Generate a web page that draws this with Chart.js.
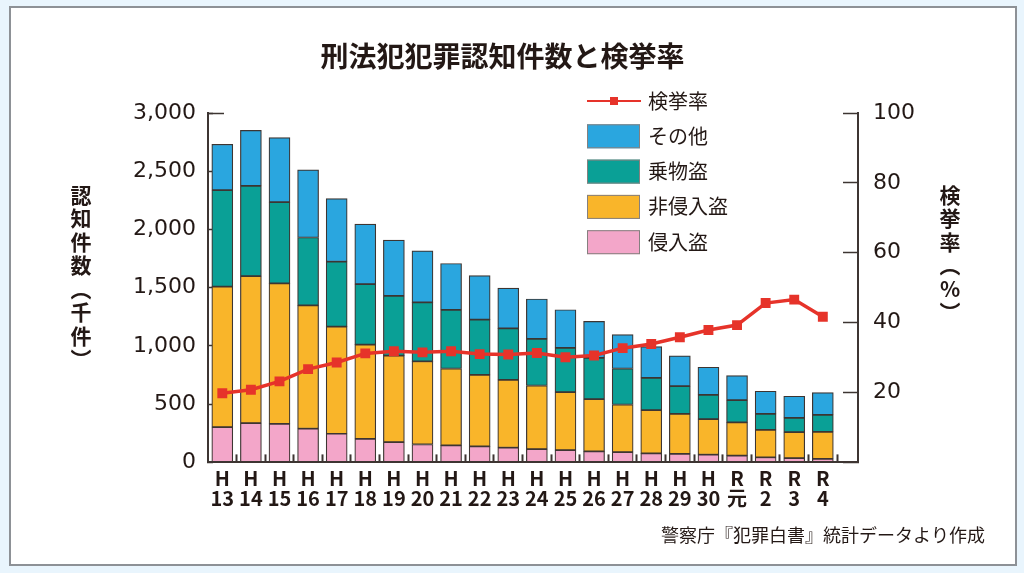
<!DOCTYPE html>
<html lang="ja">
<head>
<meta charset="utf-8">
<title>刑法犯犯罪認知件数と検挙率</title>
<script src="https://cdn.jsdelivr.net/npm/chart.js@4.4.1/dist/chart.umd.min.js"></script>
<style>
  html, body { margin: 0; padding: 0; background: #e9f5fd; }
  #panel { position: absolute; left: 9px; top: 6px; width: 1004px; height: 556px; background: #fff; border: 2px solid #8d9196; }
  #chart { position: absolute; left: 0; top: 0; }
</style>
</head>
<body>
<div id="panel"></div>
<canvas id="chart" width="1024" height="573"></canvas>
<script>
const categories = ['H13', 'H14', 'H15', 'H16', 'H17', 'H18', 'H19', 'H20', 'H21', 'H22', 'H23',
  'H24', 'H25', 'H26', 'H27', 'H28', 'H29', 'H30', 'R元', 'R2', 'R3', 'R4'];

// 認知件数（千件）
const burglary     = [303, 337, 331, 289, 246, 203, 174, 154, 146, 137, 126, 114, 106, 94, 89, 77, 74, 66, 58, 44, 37, 31];
const nonBurglary  = [1206, 1263, 1206, 1059, 920, 808, 743, 714, 660, 614, 583, 546, 497, 449, 408, 372, 343, 305, 285, 236, 223, 232];
const vehicleTheft = [828, 774, 697, 583, 557, 520, 512, 506, 503, 475, 442, 400, 380, 354, 309, 277, 237, 209, 191, 137, 123, 146];
const others       = [394, 477, 554, 580, 542, 515, 480, 443, 399, 377, 346, 343, 328, 314, 291, 268, 260, 237, 212, 194, 185, 191];

// 検挙率（%）
const clearanceRate = [19.8, 20.8, 23.2, 26.7, 28.6, 31.2, 31.8, 31.5, 31.8, 31.0, 30.9,
  31.3, 30.1, 30.6, 32.7, 33.9, 35.8, 37.9, 39.3, 45.6, 46.6, 41.7];

const FONT = "'Noto Sans CJK JP', 'Noto Sans', sans-serif";
const INK = '#231815';
const AXIS = '#3d3532';

const toPoints = arr => arr.map((v, i) => ({ x: i, y: v }));

// 縦書きの軸タイトルと凡例
const decorations = {
  id: 'decorations',
  afterDraw(chart) {
    const ctx = chart.ctx;
    const area = chart.chartArea;
    ctx.save();

    // 左軸の上端の長い目盛り
    ctx.strokeStyle = AXIS;
    ctx.lineWidth = 1.5;
    ctx.beginPath();
    ctx.moveTo(area.left, area.top + 0.5);
    ctx.lineTo(area.left + 16, area.top + 0.5);
    ctx.stroke();

    ctx.fillStyle = INK;
    ctx.font = `bold 21px ${FONT}`;
    ctx.textAlign = 'center';
    ctx.textBaseline = 'middle';
    [...'認知件数︵千件︶'].forEach((c, i) => ctx.fillText(c, 81, 195 + i * 23.5));
    [...'検挙率︵%︶'].forEach((c, i) => ctx.fillText(c, 950, 195 + i * 23.4));

    const ds = chart.data.datasets;
    const items = [ds.find(d => d.type === 'line'), ...ds.filter(d => d.type === 'bar').reverse()];
    const x = 587, y0 = 101, step = 35.3;
    ctx.font = `20px ${FONT}`;
    ctx.textAlign = 'left';
    items.forEach((d, i) => {
      const y = y0 + i * step;
      if (d.type === 'line') {
        ctx.strokeStyle = d.borderColor;
        ctx.lineWidth = 2;
        ctx.beginPath();
        ctx.moveTo(x, y);
        ctx.lineTo(x + 54, y);
        ctx.stroke();
        ctx.fillStyle = d.borderColor;
        ctx.fillRect(x + 23, y - 4, 8, 8);
      } else {
        ctx.fillStyle = d.backgroundColor;
        ctx.fillRect(x, y - 12, 53, 24);
        ctx.strokeStyle = '#85807f';
        ctx.lineWidth = 1;
        ctx.strokeRect(x + 0.5, y - 11.5, 52, 23);
      }
      ctx.fillStyle = INK;
      ctx.fillText(d.label, 648, y);
    });
    ctx.restore();
  }
};

const barStyle = {
  type: 'bar',
  yAxisID: 'y',
  borderColor: AXIS,
  borderWidth: 1.2,
  borderSkipped: false,
  barThickness: 21,
  order: 1
};

const chart = new Chart(document.getElementById('chart').getContext('2d'), {
  type: 'bar',
  data: {
    datasets: [
      {
        type: 'line',
        label: '検挙率',
        data: toPoints(clearanceRate),
        yAxisID: 'y1',
        borderColor: '#e6332a',
        backgroundColor: '#e6332a',
        borderWidth: 3.5,
        pointStyle: 'rect',
        pointRadius: 7,
        pointBorderWidth: 0,
        order: 0
      },
      { ...barStyle, label: '侵入盗', data: toPoints(burglary), backgroundColor: '#f3a6c9' },
      { ...barStyle, label: '非侵入盗', data: toPoints(nonBurglary), backgroundColor: '#f9b52a' },
      { ...barStyle, label: '乗物盗', data: toPoints(vehicleTheft), backgroundColor: '#0aa096' },
      { ...barStyle, label: 'その他', data: toPoints(others), backgroundColor: '#2aa6df' }
    ]
  },
  options: {
    responsive: false,
    animation: false,
    devicePixelRatio: 1,
    layout: { padding: { top: 20, left: 20, right: 39, bottom: 17 } },
    plugins: {
      legend: { display: false },
      tooltip: { enabled: false },
      title: {
        display: true,
        text: '刑法犯犯罪認知件数と検挙率',
        color: INK,
        font: { family: FONT, size: 28, weight: 'bold', lineHeight: 1.2 },
        padding: { top: 20, bottom: 39.4 }
      },
      subtitle: {
        display: true,
        position: 'bottom',
        align: 'end',
        text: '警察庁『犯罪白書』統計データより作成',
        color: INK,
        font: { family: FONT, size: 18, lineHeight: 1.2 },
        padding: { top: 4, bottom: 10 }
      }
    },
    scales: {
      x: {
        type: 'linear',
        min: -0.5,
        max: 22.23,
        bounds: 'data',
        offset: false,
        stacked: true,
        afterBuildTicks(scale) {
          scale.ticks = [];
          for (let v = -0.5; v <= categories.length - 0.5; v += 0.5) scale.ticks.push({ value: v });
        },
        ticks: {
          autoSkip: false,
          maxRotation: 0,
          padding: 14,
          color: INK,
          font: { family: FONT, size: 20, weight: 'bold', lineHeight: 1 },
          callback: v => Number.isInteger(v) && categories[v] ? [categories[v].slice(0, 1), categories[v].slice(1)] : ''
        },
        grid: {
          offset: false,
          drawOnChartArea: false,
          tickLength: -8,
          tickWidth: 2,
          tickColor: ctx => (ctx.tick && !Number.isInteger(ctx.tick.value) && ctx.tick.value > 0) ? AXIS : 'rgba(0,0,0,0)'
        },
        border: { color: AXIS, width: 2 },
        afterFit(scale) { scale.height = 58; }
      },
      y: {
        position: 'left',
        min: 0,
        max: 3000,
        stacked: true,
        ticks: {
          stepSize: 500,
          padding: 17,
          color: INK,
          font: { family: 'DejaVu Sans', size: 22 },
          callback: v => v.toLocaleString('en-US')
        },
        grid: { drawOnChartArea: false, tickLength: -5, tickWidth: 1.5, tickColor: AXIS },
        border: { color: AXIS, width: 2 },
        afterFit(scale) { scale.width = 188; }
      },
      y1: {
        position: 'right',
        min: 0,
        max: 100,
        ticks: {
          stepSize: 20,
          padding: 30,
          color: INK,
          font: { family: 'DejaVu Sans', size: 22 },
          callback: v => v === 0 ? '' : v
        },
        grid: { drawOnChartArea: false, tickLength: -15, tickWidth: 1.5, tickColor: AXIS },
        border: { color: AXIS, width: 2 },
        afterFit(scale) { scale.width = 127; }
      }
    }
  },
  plugins: [decorations]
});
</script>
</body>
</html>
